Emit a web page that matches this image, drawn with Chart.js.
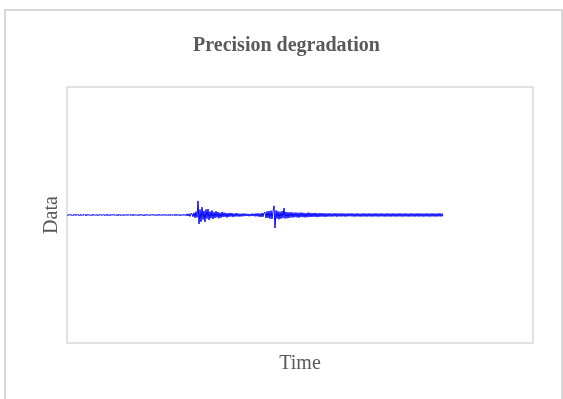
<!DOCTYPE html>
<html lang="en">
<head>
  <meta charset="UTF-8" />
  <title>Precision degradation</title>
  <script src="https://cdn.jsdelivr.net/npm/chart.js"></script>
  <style>
    body { margin: 0; background: #fff; }
    #wrap { position: relative; width: 563px; height: 399px; overflow: hidden; }
    #frame {
      position: absolute; left: 4px; top: 9px; width: 555px; height: 400px;
      border: 2px solid #d9d9d9; border-bottom: none;
    }
    #chart { position: absolute; left: 0; top: 0; }
  </style>
</head>
<body>
  <div id="wrap">
    <div id="frame"></div>
    <canvas id="chart" width="563" height="399"></canvas>
  </div>

  <script>
    // recorded trace, split by phase
    const preEvent = [
      0.4,-0.5,0.6,-0.3,0.5,-0.6,0.3,-0.4,0.7,-0.5,
      0.5,-0.4,0.3,-0.6,0.6,-0.5,0.4,-0.3,0.5,-0.7,
      0.6,-0.4,0.5,-0.5,0.3,-0.6,0.7,-0.4,0.4,-0.5,
      0.5,-0.6,0.4,-0.3,0.6,-0.5,0.5,-0.4,0.3,-0.6,
      0.7,-0.5,0.4,-0.6,0.5,-0.4,0.6,-0.3,0.4,-0.5,
      0.5,-0.7,0.6,-0.4,0.3,-0.5,0.5,-0.6,0.4,-0.4,
      0.6,-0.5,0.5,-0.3,0.4,-0.6,0.7,-0.5,0.5,-0.4,
      0.4,-0.6,0.5,-0.5,0.6,-0.4,0.3,-0.7,0.5,-0.5,
      0.6,-0.4,0.4,-0.6,0.5,-0.3,0.6,-0.5,0.4,-0.6,
      0.5,-0.5,0.7,-0.4,0.4,-0.6,0.5,-0.4,0.6,-0.5,
      0.4,-0.5,0.6,-0.6,0.5,-0.4,0.3,-0.5,0.7,-0.6,
      0.6,-0.4,0.5,-0.7,0.4,-0.5,0.6,-0.4,0.5,-0.6,
      0.9,-0.8,1.0,-1.1,1.2
    ];
    const firstEvent = [
      1.0,-1.3,1.8,-2.2,2.6,-1.9,
      11.0,-7.0,4.2,-5.3,6.1,-3.6,3.1,-5.4,4.4,-2.8,
      4.6,-3.9,2.7,-2.5,3.6,-3.1,2.2,-2.4,3.0,-1.9,
      2.3,-2.6,1.7,-2.1,2.4,-1.6,1.9,-1.5,1.6,-2.0,
      1.4,-1.5,1.7,-1.2,1.5,-1.6,1.1,-1.3,1.5,-1.1,
      1.2,-1.3,1.0,-1.2,1.1,-1.0,1.2,-0.9
    ];
    const interval = [
      1.0,-0.8,0.9,-1.0,0.8,-0.9,1.1,-0.8,1.0,-1.1,
      1.2,-1.0,1.3,-1.4,1.2,-1.5,1.6,-1.4,1.8
    ];
    const secondEvent = [
      2.0,-2.3,2.8,-2.4,3.1,-2.9,3.4,-3.0,
      2.9,7.2,-10.2,3.6,-2.8,3.0,-3.4,2.5,
      -2.9,3.1,-2.4,5.4,-2.7,2.3,-2.6,2.1,-2.4,2.2,-1.9,2.1
    ];
    const coda = [
      -2.0,1.8,-1.7,2.0,-1.9,1.7,-2.1,1.9,-1.6,1.9,
      -1.7,1.6,-1.9,1.5,-1.8,1.9,-1.6,1.7,-1.6,1.5,
      -1.5,1.6,-1.4,1.6,-1.7,1.3,-1.5,1.6,-1.3,1.4,
      -1.3,1.4,-1.5,1.2,-1.3,1.3,-1.2,1.4,-1.3,1.1,
      -1.2,1.3,-1.1,1.3,-1.4,1.2,-1.1,1.3,-1.2,1.3,
      -1.1,1.2,-1.3,1.1,-1.2,1.3,-1.0,1.2,-1.1,1.3,
      -1.2,1.1,-1.3,1.2,-1.1,1.3,-1.2,1.0,-1.3,1.2,
      -1.1,1.3,-1.2,1.1,-1.3,1.2,-1.1,1.3,-1.2,1.1,
      -1.3,1.2,-1.1,1.3,-1.2,1.1,-1.3,1.2,-1.1,1.3,
      -1.2,1.1,-1.3,1.2,-1.1,1.3,-1.2,1.1,-1.3,1.2,
      -1.1,1.3,-1.2,1.1,-1.3,1.2,-1.1,1.3,-1.2,1.1,
      -1.3,1.2,-1.1,1.3,-1.2,1.1,-1.3,1.2,-1.1,1.3,
      -1.2,1.1,-1.3,1.2,-1.1,1.3,-1.3,1.2,-1.1,1.2,
      -1.3,1.1,-1.2,1.3,-1.1,1.2,-1.3,1.1,-1.2,1.3,
      -1.1,1.2,-1.3,1.1,-1.2,1.3,-1.1,1.3,-1.2,1.1,
      -1.0
    ];

    const signal = [...preEvent, ...firstEvent, ...interval, ...secondEvent, ...coda];
    const points = signal.map((v, i) => ({ x: i, y: v }));

    const serif = "'Liberation Serif', 'Times New Roman', serif";
    const textColor = '#595959';

    // light box around the plot area
    const plotBox = {
      id: 'plotBox',
      beforeDatasetsDraw(chart) {
        const { ctx, chartArea: a } = chart;
        ctx.save();
        ctx.strokeStyle = '#d9d9d9';
        ctx.lineWidth = 1.5;
        ctx.strokeRect(a.left, a.top, a.right - a.left, a.bottom - a.top);
        ctx.restore();
      }
    };

    new Chart(document.getElementById('chart'), {
      type: 'line',
      data: {
        datasets: [{
          data: points,
          borderColor: '#0000ff',
          borderWidth: 1,
          pointRadius: 0,
          tension: 0,
          fill: false
        }]
      },
      options: {
        responsive: false,
        animation: false,
        layout: { padding: { top: 34, left: 40, right: 30, bottom: 23 } },
        plugins: {
          legend: { display: false },
          tooltip: { enabled: false },
          title: {
            display: true,
            text: 'Precision degradation',
            color: textColor,
            font: { family: serif, size: 20, weight: 'bold' },
            padding: { top: 0, bottom: 29 }
          }
        },
        scales: {
          x: {
            type: 'linear',
            min: 0,
            max: 466,
            grid: { display: false, drawTicks: false },
            border: { display: false },
            ticks: { display: false },
            title: {
              display: true,
              text: 'Time',
              color: textColor,
              font: { family: serif, size: 20 },
              padding: { top: 9, bottom: 0 }
            }
          },
          y: {
            min: -100,
            max: 100,
            grid: { display: false, drawTicks: false },
            border: { display: false },
            ticks: { display: false },
            title: {
              display: true,
              text: 'Data',
              color: textColor,
              font: { family: serif, size: 20 },
              padding: { top: 0, bottom: 3 }
            }
          }
        }
      },
      plugins: [plotBox]
    });
  </script>
</body>
</html>
